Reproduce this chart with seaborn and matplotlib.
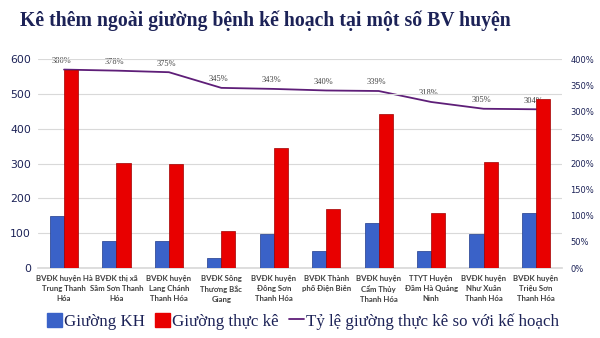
import matplotlib
matplotlib.use("Agg")
import matplotlib.pyplot as plt
import seaborn as sns
import pandas as pd
import numpy as np
from matplotlib.lines import Line2D
from matplotlib.patches import Patch

categories = [
    "BVĐK huyện Hà\nTrung Thanh\nHóa",
    "BVĐK thị xã\nSầm Sơn Thanh\nHóa",
    "BVĐK huyện\nLang Chánh\nThanh Hóa",
    "BVĐK Sông\nThương Bắc\nGiang",
    "BVĐK huyện\nĐông Sơn\nThanh Hóa",
    "BVĐK Thành\nphố Điện Biên",
    "BVĐK huyện\nCẩm Thủy\nThanh Hóa",
    "TTYT Huyện\nĐầm Hà Quảng\nNinh",
    "BVĐK huyện\nNhư Xuân\nThanh Hóa",
    "BVĐK huyện\nTriệu Sơn\nThanh Hóa",
]
giuong_kh = [150, 79, 79, 28, 99, 48, 129, 48, 99, 159]
giuong_thuc_ke = [570, 301, 300, 106, 344, 169, 443, 158, 305, 486]
ty_le = [3.80, 3.78, 3.75, 3.45, 3.43, 3.40, 3.39, 3.18, 3.05, 3.04]
ty_le_labels = ["380%", "378%", "375%", "345%", "343%", "340%", "339%", "318%", "305%", "304%"]

series_names = ["Giường KH", "Giường thực kê"]
line_name = "Tỷ lệ giường thực kê so với kế hoạch"
title = "Kê thêm ngoài giường bệnh kế hoạch tại một số BV huyện"

blue = "#3A62C8"
red = "#E80000"
purple = "#5E1E78"
navy = "#1C2257"

df = pd.DataFrame({
    "cat": categories * 2,
    "series": [series_names[0]] * len(categories) + [series_names[1]] * len(categories),
    "value": giuong_kh + giuong_thuc_ke,
})

sns.set_theme(style="white")
plt.rcParams["font.family"] = ["DejaVu Sans"]

fig = plt.figure(figsize=(6, 3.38), dpi=100)
ax = fig.add_axes([0.063, 0.207, 0.874, 0.618])
ax2 = ax.twinx()

sns.barplot(data=df, x="cat", y="value", hue="series", order=categories,
            hue_order=series_names, palette=[blue, red], width=0.54, gap=0,
            ax=ax, legend=False, saturation=1, zorder=3)
for i, p in enumerate(ax.patches):
    p.set_edgecolor("#1e3a8a" if i < len(categories) else "#a00000")
    p.set_linewidth(0.5)

ax.set_ylim(0, 600)
ax.set_yticks(range(0, 601, 100))
ax.set_xlim(-0.5, len(categories) - 0.5)
ax.grid(axis="y", color="#d9d9d9", linewidth=0.8, zorder=0)
ax.set_axisbelow(True)
ax.set_xlabel("")
ax.set_ylabel("")
for s in ax.spines.values():
    s.set_visible(False)
ax.spines["bottom"].set_visible(True)
ax.spines["bottom"].set_color("#d9d9d9")
ax.tick_params(axis="y", labelsize=7.8, colors=navy, length=0, pad=5)
ax.tick_params(axis="x", length=0, pad=5)
ax.set_xticks(range(len(categories)))
ax.set_xticklabels(categories, fontsize=5.6, color="#404040", fontweight="bold",
                   linespacing=1.5, va="top", family=["Lato", "DejaVu Sans"])

x = np.arange(len(categories))
sns.lineplot(x=x, y=ty_le, ax=ax2, color=purple, linewidth=1.3, legend=False)
for xi, yi, lab in zip(x, ty_le, ty_le_labels):
    ax2.text(xi - 0.05, yi + 0.09, lab, ha="center", va="bottom", fontsize=6,
             color="#404040", family="Liberation Serif")
ax2.set_ylim(0, 4)
ax2.set_yticks(np.arange(0, 4.01, 0.5))
ax2.set_yticklabels([f"{int(round(v*100))}%" for v in np.arange(0, 4.01, 0.5)])
ax2.tick_params(axis="y", labelsize=6, colors=navy, length=0, pad=6)
for s in ax2.spines.values():
    s.set_visible(False)
ax2.grid(False)
ax2.set_ylabel("")

ax2.set_zorder(ax.get_zorder() - 1)
ax.patch.set_visible(False)
ax2.patch.set_visible(True)
ax2.patch.set_facecolor("white")

fig.text(0.442, 0.94, title, ha="center", va="center", fontsize=14.2,
         fontweight="bold", color=navy, family="Liberation Serif")

handles = [Patch(facecolor=blue, edgecolor=blue),
           Patch(facecolor=red, edgecolor=red),
           Line2D([0], [0], color=purple, linewidth=1.3)]
fig.legend(handles, series_names + [line_name], loc="center", bbox_to_anchor=(0.505, 0.05),
           ncol=3, frameon=False, prop={"family": "Liberation Serif", "size": 12.2},
           labelcolor=navy, handlelength=0.9, handletextpad=0.1, columnspacing=0.6,
           handleheight=0.9)

fig.savefig("out.png", dpi=100, facecolor="white")
